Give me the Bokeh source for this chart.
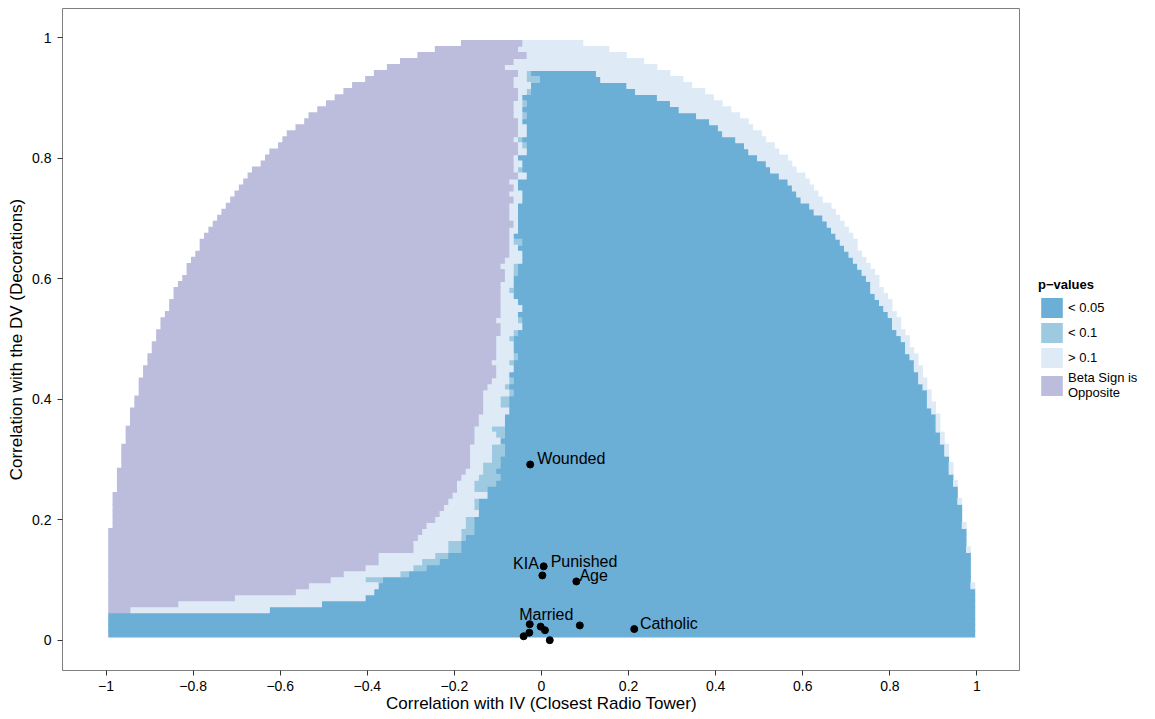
from bokeh.plotting import figure
from bokeh.layouts import row
from bokeh.models import ColumnDataSource, Legend, LegendItem, FixedTicker, Range1d
from bokeh.embed import file_html
from bokeh.resources import INLINE
from bokeh.core.properties import value

FONT = "Liberation Sans"

# ---- heat-map rows (cell centres, step 0.01) ----
row_y = [0.99, 0.98, 0.97, 0.96, 0.95, 0.94, 0.93, 0.92, 0.91, 0.90,
         0.89, 0.88, 0.87, 0.86, 0.85, 0.84, 0.83, 0.82, 0.81, 0.80,
         0.79, 0.78, 0.77, 0.76, 0.75, 0.74, 0.73, 0.72, 0.71, 0.70,
         0.69, 0.68, 0.67, 0.66, 0.65, 0.64, 0.63, 0.62, 0.61, 0.60,
         0.59, 0.58, 0.57, 0.56, 0.55, 0.54, 0.53, 0.52, 0.51, 0.50,
         0.49, 0.48, 0.47, 0.46, 0.45, 0.44, 0.43, 0.42, 0.41, 0.40,
         0.39, 0.38, 0.37, 0.36, 0.35, 0.34, 0.33, 0.32, 0.31, 0.30,
         0.29, 0.28, 0.27, 0.26, 0.25, 0.24, 0.23, 0.22, 0.21, 0.20,
         0.19, 0.18, 0.17, 0.16, 0.15, 0.14, 0.13, 0.12, 0.11, 0.10,
         0.09, 0.08, 0.07, 0.06, 0.05, 0.04, 0.03, 0.02, 0.01]

# first (leftmost) cell of each row
left_edge = [-0.18, -0.24, -0.28, -0.32, -0.35, -0.38, -0.40, -0.43, -0.45, -0.47,
             -0.49, -0.51, -0.53, -0.54, -0.56, -0.58, -0.59, -0.60, -0.62, -0.63,
             -0.64, -0.66, -0.67, -0.68, -0.69, -0.70, -0.71, -0.72, -0.73, -0.74,
             -0.75, -0.76, -0.77, -0.78, -0.78, -0.79, -0.80, -0.81, -0.81, -0.82,
             -0.83, -0.84, -0.84, -0.85, -0.85, -0.86, -0.87, -0.87, -0.88, -0.88,
             -0.89, -0.89, -0.90, -0.90, -0.91, -0.91, -0.92, -0.92, -0.92, -0.93,
             -0.93, -0.94, -0.94, -0.94, -0.95, -0.95, -0.95, -0.96, -0.96, -0.96,
             -0.96, -0.97, -0.97, -0.97, -0.97, -0.98, -0.98, -0.98, -0.98, -0.98,
             -0.98, -0.99, -0.99, -0.99, -0.99, -0.99, -0.99, -0.99, -0.99, -0.99,
             -0.99, -0.99, -0.99, -0.99, -0.99, -0.99, -0.99, -0.99, -0.99]

# last cell of the "Beta Sign is Opposite" run
purple_end = [-0.05, -0.06, -0.04, -0.07, -0.09, -0.06, -0.07, -0.07, -0.06, -0.06,
              -0.07, -0.07, -0.07, -0.06, -0.06, -0.06, -0.07, -0.06, -0.06, -0.07,
              -0.07, -0.07, -0.06, -0.08, -0.07, -0.08, -0.07, -0.08, -0.08, -0.08,
              -0.07, -0.08, -0.08, -0.08, -0.08, -0.08, -0.09, -0.10, -0.09, -0.09,
              -0.10, -0.10, -0.10, -0.10, -0.10, -0.10, -0.11, -0.10, -0.10, -0.11,
              -0.11, -0.11, -0.11, -0.12, -0.11, -0.11, -0.12, -0.13, -0.14, -0.14,
              -0.14, -0.14, -0.15, -0.15, -0.16, -0.16, -0.16, -0.17, -0.17, -0.17,
              -0.17, -0.18, -0.19, -0.20, -0.20, -0.21, -0.22, -0.23, -0.24, -0.25,
              -0.27, -0.28, -0.29, -0.30, -0.30, -0.38, -0.38, -0.41, -0.46, -0.49,
              -0.54, -0.57, -0.71, -0.84, -0.95, -1.00, -1.00, -1.00, -1.00]

# first cell of the "< 0.1" run just before the solid "< 0.05" area (None: no blue in row)
mid_start = [None, None, None, None, None, -0.03, -0.03, -0.02, -0.03, -0.04,
             -0.04, -0.04, -0.04, -0.04, -0.03, -0.03, -0.05, -0.04, -0.03, -0.05,
             -0.04, -0.05, -0.03, -0.05, -0.05, -0.04, -0.04, -0.05, -0.05, -0.05,
             -0.05, -0.05, -0.06, -0.06, -0.05, -0.04, -0.04, -0.06, -0.06, -0.06,
             -0.06, -0.07, -0.06, -0.05, -0.04, -0.05, -0.05, -0.04, -0.06, -0.07,
             -0.06, -0.06, -0.06, -0.07, -0.06, -0.07, -0.07, -0.08, -0.07, -0.09,
             -0.09, -0.07, -0.08, -0.08, -0.11, -0.10, -0.09, -0.11, -0.11, -0.11,
             -0.13, -0.13, -0.14, -0.15, -0.15, -0.12, -0.15, -0.15, -0.14, -0.17,
             -0.17, -0.18, -0.18, -0.21, -0.21, -0.24, -0.27, -0.29, -0.32, -0.40,
             -0.37, -0.38, -0.40, -0.50, -0.62, -0.99, -0.99, -0.99, -0.99]

# first and last cell of the solid "< 0.05" area
blue_start = [None, None, None, None, None, -0.02, 0.00, -0.02, -0.02, -0.04,
              -0.03, -0.04, -0.03, -0.04, -0.03, -0.03, -0.04, -0.03, -0.03, -0.05,
              -0.04, -0.04, -0.03, -0.05, -0.05, -0.04, -0.04, -0.05, -0.05, -0.05,
              -0.05, -0.05, -0.06, -0.04, -0.05, -0.04, -0.04, -0.05, -0.05, -0.06,
              -0.06, -0.06, -0.06, -0.05, -0.04, -0.05, -0.04, -0.04, -0.05, -0.06,
              -0.06, -0.06, -0.05, -0.06, -0.06, -0.07, -0.06, -0.07, -0.06, -0.07,
              -0.07, -0.07, -0.08, -0.08, -0.08, -0.08, -0.09, -0.08, -0.08, -0.09,
              -0.09, -0.10, -0.09, -0.10, -0.12, -0.12, -0.14, -0.14, -0.14, -0.15,
              -0.15, -0.15, -0.17, -0.18, -0.18, -0.21, -0.23, -0.26, -0.30, -0.36,
              -0.37, -0.38, -0.40, -0.50, -0.62, -0.99, -0.99, -0.99, -0.99]

blue_end = [None, None, None, None, None, 0.12, 0.13, 0.19, 0.21, 0.26,
            0.29, 0.31, 0.35, 0.38, 0.40, 0.41, 0.44, 0.46, 0.47, 0.49,
            0.51, 0.52, 0.54, 0.56, 0.57, 0.58, 0.59, 0.61, 0.62, 0.64,
            0.65, 0.66, 0.67, 0.68, 0.69, 0.70, 0.71, 0.72, 0.73, 0.74,
            0.75, 0.75, 0.76, 0.77, 0.78, 0.79, 0.80, 0.80, 0.81, 0.82,
            0.83, 0.83, 0.84, 0.85, 0.85, 0.86, 0.86, 0.87, 0.88, 0.88,
            0.88, 0.89, 0.90, 0.90, 0.90, 0.91, 0.91, 0.92, 0.92, 0.93,
            0.93, 0.93, 0.94, 0.94, 0.95, 0.95, 0.95, 0.96, 0.96, 0.96,
            0.96, 0.97, 0.97, 0.97, 0.97, 0.98, 0.98, 0.98, 0.98, 0.98,
            0.98, 0.99, 0.99, 0.99, 0.99, 0.99, 0.99, 0.99, 0.99]

# last (rightmost) cell of each row
right_edge = [0.09, 0.15, 0.19, 0.23, 0.26, 0.29, 0.32, 0.34, 0.37, 0.39,
              0.41, 0.43, 0.45, 0.47, 0.48, 0.50, 0.51, 0.53, 0.54, 0.56,
              0.57, 0.58, 0.60, 0.61, 0.62, 0.63, 0.64, 0.66, 0.67, 0.68,
              0.69, 0.70, 0.71, 0.72, 0.72, 0.73, 0.74, 0.75, 0.76, 0.77,
              0.77, 0.78, 0.79, 0.80, 0.80, 0.81, 0.82, 0.82, 0.83, 0.84,
              0.84, 0.85, 0.86, 0.86, 0.87, 0.87, 0.88, 0.88, 0.89, 0.89,
              0.90, 0.90, 0.91, 0.91, 0.91, 0.92, 0.92, 0.93, 0.93, 0.93,
              0.94, 0.94, 0.94, 0.95, 0.95, 0.95, 0.96, 0.96, 0.96, 0.96,
              0.97, 0.97, 0.97, 0.97, 0.98, 0.98, 0.98, 0.98, 0.98, 0.98,
              0.99, 0.99, 0.99, 0.99, 0.99, 0.99, 0.99, 0.99, 0.99]

categories = ["< 0.05", "< 0.1", "> 0.1", "Beta Sign is\nOpposite"]
cat_colors = ["#6BAED6", "#9ECAE1", "#DEEBF7", "#BCBDDC"]

# ---- observed covariates ----
point_x = [-0.026, 0.005, 0.002, 0.080, -0.027, -0.002, 0.008, -0.028, -0.041, 0.019, 0.088, 0.213]
point_y = [0.292, 0.123, 0.108, 0.098, 0.027, 0.023, 0.017, 0.013, 0.007, 0.0005, 0.025, 0.019]

label_text = ["Wounded", "KIA", "Punished", "Age", "Married", "Catholic"]
label_x = [-0.010, -0.006, 0.021, 0.087, 0.011, 0.226]
label_y = [0.3015, 0.1277, 0.1316, 0.1078, 0.0426, 0.0277]
label_align = ["left", "right", "left", "left", "center", "left"]

x_ticks = [-1.0, -0.8, -0.6, -0.4, -0.2, 0.0, 0.2, 0.4, 0.6, 0.8, 1.0]
x_tick_labels = ["\u22121", "\u22120.8", "\u22120.6", "\u22120.4", "\u22120.2", "0",
                 "0.2", "0.4", "0.6", "0.8", "1"]
y_ticks = [0.0, 0.2, 0.4, 0.6, 0.8, 1.0]
y_tick_labels = ["0", "0.2", "0.4", "0.6", "0.8", "1"]

# ---- build tile segments ----
HALF = 0.005
PAD_X = 0.001   # tiny overlaps so neighbouring tiles leave no seams
PAD_Y = 0.0015
segs = {c: dict(left=[], right=[], bottom=[], top=[]) for c in categories}


def add(cat, a, b, y):
    if a is None or b is None:
        return
    a = round(a, 3)
    b = round(b, 3)
    if b < a - 1e-9:
        return
    d = segs[cat]
    d["left"].append(a - HALF)
    d["right"].append(b + HALF + PAD_X)
    d["bottom"].append(y - HALF)
    d["top"].append(y + HALF + PAD_Y)


for i, y in enumerate(row_y):
    L, P, M, B, E, R = (left_edge[i], purple_end[i], mid_start[i],
                        blue_start[i], blue_end[i], right_edge[i])
    add(categories[3], L, P, y)
    if B is None:
        add(categories[2], P + 0.01, R, y)
    else:
        add(categories[2], P + 0.01, M - 0.01, y)
        add(categories[1], M, B - 0.01, y)
        add(categories[0], B, E, y)
        add(categories[2], E + 0.01, R, y)

# ---- main panel ----
p = figure(frame_width=958, frame_height=662, output_backend="svg", toolbar_location=None,
           x_range=Range1d(-1.1, 1.1), y_range=Range1d(-0.0498, 1.0486),
           min_border_left=62, min_border_right=0, min_border_top=8,
           min_border_bottom=49)

for c, col in zip(categories, cat_colors):
    src = ColumnDataSource(segs[c])
    p.quad(left="left", right="right", bottom="bottom", top="top",
           source=src, fill_color=col, line_color=None)

p.scatter(point_x, point_y, size=7, color="black")

lab_src = ColumnDataSource(dict(x=label_x, y=label_y, t=label_text, a=label_align))
p.text(x="x", y="y", text="t", text_align="a", text_baseline="middle",
       source=lab_src, text_font=value(FONT), text_font_size="16px", text_color="black")

p.xgrid.visible = False
p.ygrid.visible = False
p.outline_line_color = "#7F7F7F"
p.outline_line_width = 1
p.background_fill_color = "white"

for ax in (p.xaxis[0], p.yaxis[0]):
    ax.axis_line_color = None
    ax.major_tick_in = 0
    ax.major_tick_out = 5
    ax.minor_tick_line_color = None
    ax.major_tick_line_color = "#333333"
    ax.major_label_text_font = FONT
    ax.major_label_text_font_size = "14px"
    ax.major_label_text_color = "black"
    ax.axis_label_text_font = FONT
    ax.axis_label_text_font_size = "17px"
    ax.axis_label_text_font_style = "normal"
    ax.axis_label_text_color = "black"

p.xaxis.ticker = FixedTicker(ticks=x_ticks)
p.xaxis.major_label_overrides = {t: s for t, s in zip(x_ticks, x_tick_labels)}
p.yaxis.ticker = FixedTicker(ticks=y_ticks)
p.yaxis.major_label_overrides = {t: s for t, s in zip(y_ticks, y_tick_labels)}
p.xaxis.axis_label = "Correlation with IV (Closest Radio Tower)"
p.yaxis.axis_label = "Correlation with the DV (Decorations)"
p.xaxis.major_label_standoff = 5
p.xaxis.axis_label_standoff = 0
p.yaxis.major_label_standoff = 6
p.yaxis.axis_label_standoff = 3

# ---- legend panel to the right of the main panel ----
lf = figure(width=135, height=719, output_backend="svg", toolbar_location=None,
            x_range=Range1d(0, 1), y_range=Range1d(0, 1),
            min_border=0, min_border_left=0, min_border_right=0,
            min_border_top=0, min_border_bottom=0)
lf.axis.visible = False
lf.xgrid.visible = False
lf.ygrid.visible = False
lf.outline_line_color = None

items = []
for c, col in zip(categories, cat_colors):
    # one zero-area tile per category, only so that the legend has a glyph to draw
    r = lf.quad(left=[0], right=[0], bottom=[0], top=[0], fill_color=col, line_color=None)
    items.append(LegendItem(label=c, renderers=[r]))

legend = Legend(items=items, title="p\u2212values", location=(18, 270))
legend.title_text_font = FONT
legend.title_text_font_style = "bold"
legend.title_text_font_size = "13px"
legend.title_text_color = "black"
legend.label_text_font = FONT
legend.label_text_font_size = "13px"
legend.label_text_color = "black"
legend.glyph_width = 27
legend.glyph_height = 25
legend.label_height = 25
legend.spacing = 0
legend.padding = 4
legend.margin = 0
legend.label_standoff = 3
legend.title_standoff = 3
legend.border_line_color = None
legend.background_fill_alpha = 0
lf.add_layout(legend, "center")

layout = row(p, lf)
open("out.html", "w").write(file_html(layout, INLINE))
